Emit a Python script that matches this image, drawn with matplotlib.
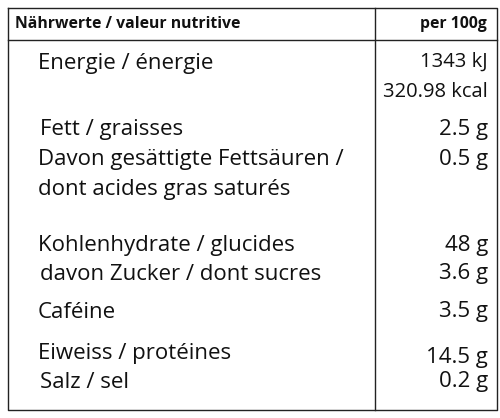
import matplotlib.pyplot as plt

plt.rcParams['font.family'] = ['Open Sans', 'DejaVu Sans']

header_left = 'Nährwerte / valeur nutritive'
header_right = 'per 100g'

labels = ['Energie / énergie', 'Fett / graisses', 'Davon gesättigte Fettsäuren /',
          'dont acides gras saturés', 'Kohlenhydrate / glucides',
          'davon Zucker / dont sucres', 'Caféine', 'Eiweiss / protéines', 'Salz / sel']
values = ['1343 kJ', '320.98 kcal', '2.5 g', '0.5 g', '48 g', '3.6 g', '3.5 g', '14.5 g', '0.2 g']

# layout (pixels)
label_pos = [(38, 64), (40, 129), (38, 159), (38, 190), (38, 245),
             (40, 274), (38, 312), (38, 354), (40, 382)]
value_y = [62, 92, 129, 159, 245, 274, 312, 357, 382]

fig = plt.figure(figsize=(5, 4.18), dpi=100)
ax = fig.add_axes([0, 0, 1, 1])
ax.set_xlim(0, 500)
ax.set_ylim(418, 0)
ax.axis('off')

lc = '#222222'
ax.plot([8, 497, 497, 8, 8], [8, 8, 410, 410, 8], color=lc, lw=1)
ax.plot([8, 497], [40, 40], color=lc, lw=1)
ax.plot([375, 375], [8, 410], color=lc, lw=1)

ax.text(15, 24, header_left, fontsize=11.3, fontweight='bold', va='center', color='#111111')
ax.text(487, 24, header_right, fontsize=11.3, fontweight='bold', va='center', ha='right', color='#111111')

for txt, (x, y) in zip(labels, label_pos):
    ax.text(x, y, txt, fontsize=16, va='center', color='#111111')
for txt, y in zip(values, value_y):
    ax.text(488, y, txt, fontsize=16 if 'k' not in txt else 14.5, va='center', ha='right', color='#111111')

fig.savefig('out.png', dpi=100)
